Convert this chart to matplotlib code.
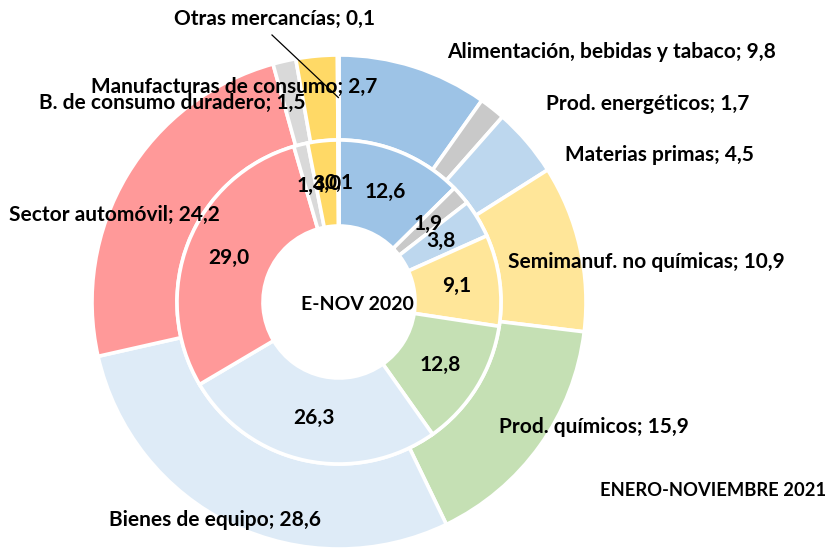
import numpy as np
import matplotlib
matplotlib.use("Agg")
import matplotlib.pyplot as plt

# data
categorias = ["Alimentación, bebidas y tabaco", "Prod. energéticos", "Materias primas",
              "Semimanuf. no químicas", "Prod. químicos", "Bienes de equipo",
              "Sector automóvil", "B. de consumo duradero", "Manufacturas de consumo",
              "Otras mercancías"]
v2021 = [9.8, 1.7, 4.5, 10.9, 15.9, 28.6, 24.2, 1.5, 2.7, 0.1]
v2020 = [12.6, 1.9, 3.8, 9.1, 12.8, 26.3, 29.0, 1.4, 3.0, 0.1]
colores = ["#9DC3E6", "#C9C9C9", "#BDD7EE", "#FFE699", "#C5E0B4",
           "#DEEBF7", "#FF9999", "#D9D9D9", "#FFD966", "#A9D18E"]

# label placement (image pixel coords, y down)
pos_outer = [(612, 52), (648, 104), (659, 155), (646, 262), (594, 427),
             (215, 520), (114, 215), (172, 103), (234, 87), (275, 19)]

W, H = 833, 550
plt.rcParams["font.family"] = ["Lato", "DejaVu Sans"]
fig = plt.figure(figsize=(W / 100, H / 100), dpi=100)
ax = fig.add_axes([0, 0, 1, 1])
ax.set_xlim(0, W); ax.set_ylim(0, H); ax.set_aspect("equal"); ax.axis("off")

cx, cy = 339, H - 302
R_out, R_mid, R_in = 247, 162, 76
fmt = lambda v: f"{v:.1f}".replace(".", ",")
fs = 15

w_out, _ = ax.pie(v2021, radius=R_out, center=(cx, cy), colors=colores, startangle=90,
                  counterclock=False, normalize=True,
                  wedgeprops=dict(width=R_out - R_mid, edgecolor="white", linewidth=2.6))
w_in, _ = ax.pie(v2020, radius=R_mid, center=(cx, cy), colors=colores, startangle=90,
                 counterclock=False, normalize=True,
                 wedgeprops=dict(width=R_mid - R_in, edgecolor="white", linewidth=2.6))
ax.set_xlim(0, W); ax.set_ylim(0, H)

# inner values
r_lab = (R_mid + R_in) / 2
for w, v in zip(w_in, v2020):
    a = np.deg2rad((w.theta1 + w.theta2) / 2)
    ax.text(cx + r_lab * np.cos(a), cy + r_lab * np.sin(a), fmt(v), ha="center", va="center",
            fontsize=fs, fontweight="bold")

# outer labels
for w, cat, v, (x, y) in zip(w_out, categorias, v2021, pos_outer):
    ax.text(x, H - y, f"{cat}; {fmt(v)}", ha="center", va="center", fontsize=fs,
            fontweight="bold")

# leader line for the tiny slice
w = w_out[-1]
a = np.deg2rad((w.theta1 + w.theta2) / 2)
r_ld = (R_out + R_mid) / 2
ax.plot([272, cx + r_ld * np.cos(a)], [H - 35, cy + r_ld * np.sin(a)], color="black", lw=0.9)

ax.text(357, H - 305, "E-NOV 2020", ha="center", va="center", fontsize=14, fontweight="bold")
ax.text(826, H - 490, "ENERO-NOVIEMBRE 2021", ha="right", va="center", fontsize=13.2,
        fontweight="bold")

fig.savefig("out.png", dpi=100)
